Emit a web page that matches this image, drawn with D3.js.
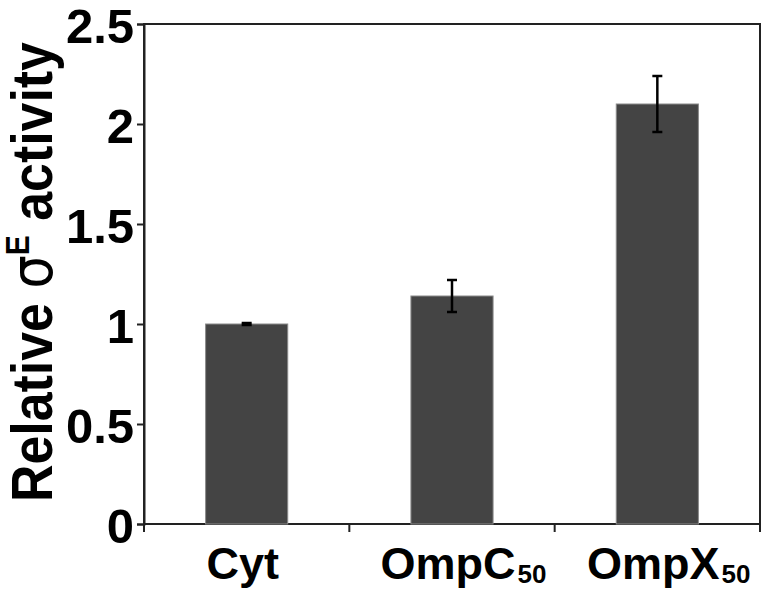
<!DOCTYPE html>
<html><head><meta charset="utf-8">
<script src="https://cdn.jsdelivr.net/npm/d3@7"></script>
<style>body{margin:0;background:#fff}svg{display:block}</style>
</head><body>
<svg id="c" width="767" height="590"></svg>
<script>
const categories = ["Cyt", "OmpC", "OmpX"];
const subscripts = ["", "50", "50"];
const values = [1.0, 1.14, 2.10];
const errors = [0.005, 0.08, 0.14];
const yTicks = [0, 0.5, 1, 1.5, 2, 2.5];
const yTickLabels = ["0", "0.5", "1", "1.5", "2", "2.5"];

const svg = d3.select("#c");
const mLeft = 144, mRight = 760, mTop = 24, mBottom = 524;
const font = "'Liberation Sans', Arial, sans-serif";

const x = d3.scaleBand().domain(categories).range([mLeft, mRight]).padding(0);
const y = d3.scaleLinear().domain([0, 2.5]).range([mBottom, mTop]);

// frame
svg.append("rect").attr("x", mLeft).attr("y", mTop).attr("width", mRight - mLeft).attr("height", mBottom - mTop)
  .attr("fill", "none").attr("stroke", "#222").attr("stroke-width", 2);

// bars
const bw = x.bandwidth() * 0.4;
svg.selectAll("rect.bar").data(categories).enter().append("rect").attr("class", "bar")
  .attr("x", d => x(d) + x.bandwidth() / 2 - bw / 2)
  .attr("y", (d, i) => y(values[i]))
  .attr("width", bw)
  .attr("height", (d, i) => y(0) - y(values[i]))
  .attr("fill", "#444").attr("stroke", "#8a8a8a").attr("stroke-width", 1);

// error bars
categories.forEach((c, i) => {
  const cx = x(c) + x.bandwidth() / 2;
  const g = svg.append("g").attr("stroke", "#000").attr("stroke-width", 2.5);
  g.append("line").attr("x1", cx).attr("x2", cx).attr("y1", y(values[i] + errors[i])).attr("y2", y(values[i] - errors[i]));
  [values[i] + errors[i], values[i] - errors[i]].forEach(v => {
    g.append("line").attr("x1", cx - 5).attr("x2", cx + 5).attr("y1", y(v)).attr("y2", y(v));
  });
});

// y axis
const yAxis = d3.axisLeft(y).tickValues(yTicks).tickFormat((d, i) => yTickLabels[i]).tickSizeOuter(0).tickSize(7).tickPadding(3);
const gy = svg.append("g").attr("transform", `translate(${mLeft},0)`).call(yAxis);
gy.select(".domain").attr("stroke", "#222").attr("stroke-width", 2);
gy.selectAll(".tick line").attr("stroke", "#222").attr("stroke-width", 2);
gy.selectAll(".tick text").attr("font-family", font).attr("font-weight", "bold").attr("font-size", 49)
  .attr("fill", "#000").attr("dy", "0.37em");

// x axis: ticks at category boundaries
const boundaries = categories.map(c => x(c)).concat([mRight]);
svg.selectAll("line.xt").data(boundaries).enter().append("line").attr("class", "xt")
  .attr("x1", d => d).attr("x2", d => d).attr("y1", mBottom).attr("y2", mBottom + 8)
  .attr("stroke", "#222").attr("stroke-width", 2);

categories.forEach((c, i) => {
  const cx = x(c) + x.bandwidth() / 2;
  const t = svg.append("text").attr("y", 579).attr("font-family", font).attr("font-weight", "bold").attr("fill", "#000");
  const main = t.append("tspan").attr("font-size", 45).text(c);
  if (subscripts[i]) t.append("tspan").attr("font-size", 26).attr("dy", 4).attr("dx", 2).text(subscripts[i]);
  const mw = main.node().getComputedTextLength();
  t.attr("x", cx - 4 - mw / 2);
});

// y label (condensed bold)
const yl = svg.append("text").attr("transform", "translate(52,272) rotate(-90) scale(0.91,1)")
  .attr("text-anchor", "middle").attr("font-family", font).attr("font-weight", "bold").attr("font-size", 57).attr("fill", "#000");
yl.append("tspan").text("Relative ");
yl.append("tspan").attr("font-family", "'DejaVu Sans', sans-serif").attr("font-weight", "normal").attr("font-size", 58).text("σ");
yl.append("tspan").attr("font-size", 33).attr("dy", -23).text("E");
yl.append("tspan").attr("dy", 23).text(" activity");
</script>
</body></html>
